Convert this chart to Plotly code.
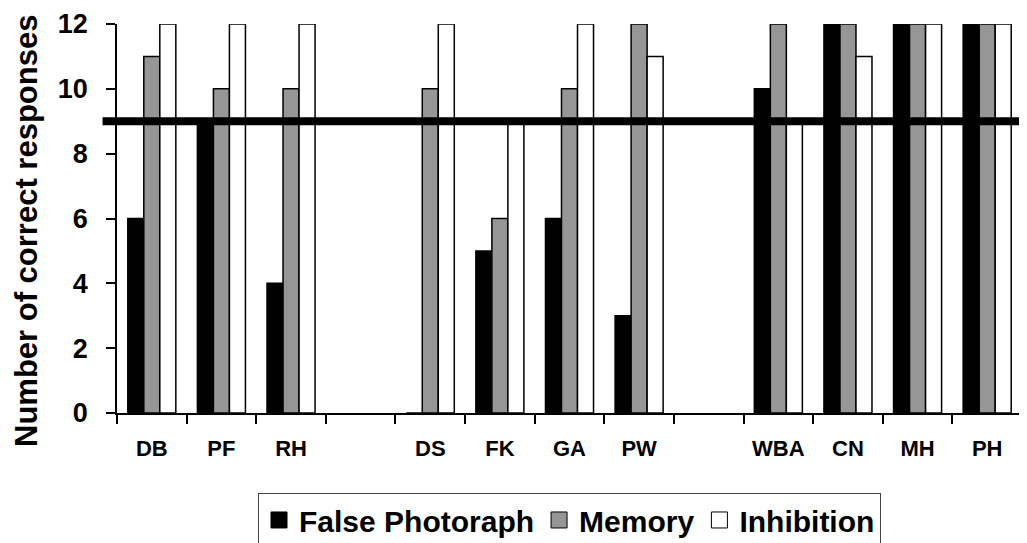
import plotly.graph_objects as go

categories = ["DB", "PF", "RH", " ", "DS", "FK", "GA", "PW", "  ", "WBA", "CN", "MH", "PH"]
false_photograph = [6, 9, 4, None, 0, 5, 6, 3, None, 10, 12, 12, 12]
memory = [11, 10, 10, None, 10, 6, 10, 12, None, 12, 12, 12, 12]
inhibition = [12, 12, 12, None, 12, 9, 12, 11, None, 9, 11, 12, 12]
series_names = ["False Photoraph", "Memory", "Inhibition"]
series_colors = ["#000000", "#969696", "#ffffff"]
threshold = 9
y_ticks = [0, 2, 4, 6, 8, 10, 12]

FONT = "Liberation Sans, Arial, sans-serif"

fig = go.Figure()
for name, vals, col in zip(series_names, [false_photograph, memory, inhibition], series_colors):
    fig.add_trace(go.Bar(
        x=categories, y=vals, name=name, showlegend=False,
        marker=dict(color=col, line=dict(color="#000000", width=1.5)),
        cliponaxis=False,
    ))
# legend proxies with larger square symbols
for name, col in zip(series_names, series_colors):
    fig.add_trace(go.Scatter(
        x=[None], y=[None], mode="markers", name=name,
        marker=dict(symbol="square", size=17, color=col, line=dict(color="#000000", width=1)),
    ))

fig.add_shape(type="line", xref="paper", yref="y", x0=-0.016, x1=1.006,
              y0=threshold, y1=threshold, line=dict(color="#000000", width=8), layer="above")

fig.add_annotation(text="Number of correct responses", textangle=-90, xref="paper", yref="paper",
                   x=-0.0994, y=0.468, xanchor="center", yanchor="middle", showarrow=False,
                   font=dict(family=FONT, size=31, color="#000000", weight="bold"))

# page body has an 8px margin, so the figure is sized/offset to compensate
fig.update_layout(
    width=1019, height=535,
    margin=dict(l=109, r=5, t=16, b=130, autoexpand=False),
    paper_bgcolor="white", plot_bgcolor="white",
    barmode="group", bargap=0.31, bargroupgap=0,
    showlegend=True,
    legend=dict(orientation="h", x=0.5, xanchor="center", y=-0.275, yanchor="middle",
                bordercolor="#444444", borderwidth=1, bgcolor="white",
                font=dict(family=FONT, size=30, color="#000000", weight="bold"),
                itemwidth=30, traceorder="normal"),
    xaxis=dict(type="category", showline=True, linecolor="#000000", linewidth=1.5,
               ticks="outside", ticklen=9, tickcolor="#000000", tickwidth=1.5,
               tickson="boundaries", showgrid=False, zeroline=False, automargin=False,
               tickfont=dict(family=FONT, size=22, color="#000000", weight="bold"),
               ticklabelstandoff=15, fixedrange=True),
    yaxis=dict(range=[0, 12], tickvals=y_ticks, showline=True, linecolor="#000000", linewidth=1.5,
               ticks="outside", ticklen=9, tickcolor="#000000", tickwidth=1.5,
               showgrid=False, zeroline=False, automargin=False,
               tickfont=dict(family=FONT, size=27, color="#000000", weight="bold"),
               ticklabelstandoff=13, fixedrange=True),
)

fig.write_html("out.html")
